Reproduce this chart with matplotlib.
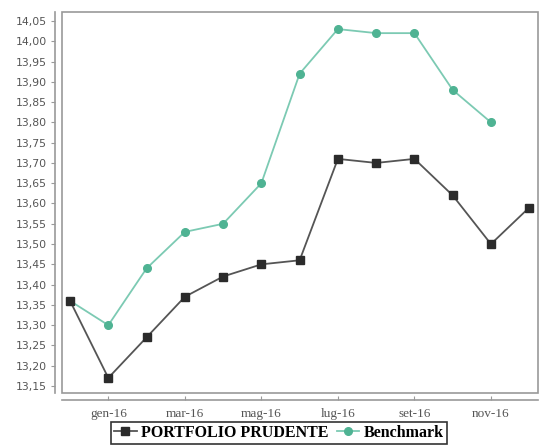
import matplotlib.pyplot as plt
from matplotlib.ticker import FuncFormatter, MultipleLocator
from matplotlib.patches import Rectangle

months = ["dic-15", "gen-16", "feb-16", "mar-16", "apr-16", "mag-16", "giu-16",
          "lug-16", "ago-16", "set-16", "ott-16", "nov-16", "dic-16"]
portfolio = [13.36, 13.17, 13.27, 13.37, 13.42, 13.45, 13.46,
             13.71, 13.70, 13.71, 13.62, 13.50, 13.59]
benchmark = [13.36, 13.30, 13.44, 13.53, 13.55, 13.65, 13.92,
             14.03, 14.02, 14.02, 13.88, 13.80]

fig = plt.figure(figsize=(5.44, 4.46), dpi=100)
ax = fig.add_axes([0.114, 0.119, 0.875, 0.854])

x_p = list(range(len(portfolio)))
x_b = list(range(len(benchmark)))

ax.plot(x_b, benchmark, color="#7ccab3", lw=1.3, marker="o", ms=5.5,
        mfc="#4fb393", mec="#4fb393", label="Benchmark", zorder=3)
ax.plot(x_p, portfolio, color="#555555", lw=1.3, marker="s", ms=6.2,
        mfc="#2b2b2b", mec="#2b2b2b", label="PORTFOLIO PRUDENTE", zorder=4)

ax.set_xlim(-0.21, 12.23)
ax.set_ylim(13.133, 14.072)

# inner plot box
ax.add_patch(Rectangle((0, 0), 1, 1, transform=ax.transAxes, fill=False,
                       ec="#999999", lw=1.2, clip_on=False, zorder=1))

for s in ["top", "right"]:
    ax.spines[s].set_visible(False)
ax.spines["left"].set_position(("outward", 5))
ax.spines["bottom"].set_position(("outward", 5))
ax.spines["left"].set_color("#999999")
ax.spines["bottom"].set_color("#999999")
ax.spines["left"].set_linewidth(1.2)
ax.spines["bottom"].set_linewidth(1.2)

ax.yaxis.set_major_locator(MultipleLocator(0.05))
ax.yaxis.set_major_formatter(FuncFormatter(lambda v, p: f"{v:.2f}".replace(".", ",")))
ax.tick_params(axis="y", length=3, color="#999999", labelsize=7.8,
               labelcolor="#555555", pad=3)
ax.set_xticks(x_p[1::2])
ax.set_xticklabels(months[1::2], family="Liberation Serif", fontsize=9.5,
                   color="#555555")
ax.tick_params(axis="x", length=3, direction="in", color="#999999", pad=6)

handles, labels = ax.get_legend_handles_labels()
leg = fig.legend(handles[::-1], labels[::-1], loc="center", bbox_to_anchor=(0.513, 0.029),
                 ncol=2, frameon=True, fancybox=False, edgecolor="black",
                 prop={"family": "Liberation Serif", "weight": "bold", "size": 11.5},
                 handlelength=1.4, handletextpad=0.3, columnspacing=0.5,
                 borderpad=0.2, borderaxespad=0)
leg.get_frame().set_linewidth(1.2)

fig.savefig("out.png", dpi=100)
